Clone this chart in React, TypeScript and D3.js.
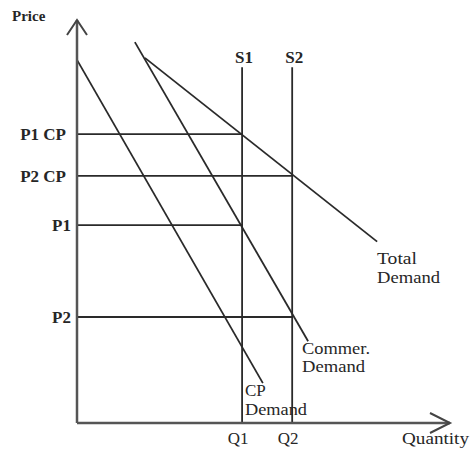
import React from "react";
import * as d3 from "d3";

// Abstract units: quantity 0..100, price 0..100
const quantityTicks = [
  { label: "Q1", value: 44.5 },
  { label: "Q2", value: 58.0 },
];
const priceTicks = [
  { label: "P1 CP", value: 71.7, q: 44.5 },
  { label: "P2 CP", value: 61.3, q: 58.0 },
  { label: "P1", value: 49.1, q: 44.5 },
  { label: "P2", value: 26.3, q: 58.0 },
];
const supplyLines = [
  { label: "S1", q: 44.5, top: 88.3 },
  { label: "S2", q: 58.0, top: 88.3 },
];
const cpDemand: [number, number][] = [
  [0, 90.1],
  [50.1, 9.9],
];
const commerDemand: [number, number][] = [
  [15.6, 94.5],
  [62.3, 20.3],
];
const totalDemand: [number, number][] = [
  [18.3, 90.6],
  [80.9, 45.0],
];

export default function App() {
  const x = d3.scaleLinear().domain([0, 100]).range([77, 448]);
  const y = d3.scaleLinear().domain([0, 100]).range([423, 20]);
  const line = d3
    .line<[number, number]>()
    .x((d) => x(d[0]))
    .y((d) => y(d[1]));
  const lc = "#2a2a2a";
  const lw = 1.8;
  const font = "'Liberation Serif', 'Times New Roman', serif";
  const tc = "#262626";
  const x0 = x(0);
  const y0 = y(0);
  const yTop = y(100);
  const xEnd = x(100);
  return (
    <svg
      width={471}
      height={451}
      style={{ position: "absolute", left: 0, top: 0, background: "#fff" }}
      fontFamily={font}
    >
      {/* demand curves */}
      <path d={line(cpDemand) || ""} stroke={lc} strokeWidth={lw} fill="none" />
      <path d={line(commerDemand) || ""} stroke={lc} strokeWidth={lw} fill="none" />
      <path d={line(totalDemand) || ""} stroke={lc} strokeWidth={lw} fill="none" />
      {/* price lines */}
      {priceTicks.map((p) => (
        <g key={p.label}>
          <line x1={x0} x2={x(p.q)} y1={y(p.value)} y2={y(p.value)} stroke={lc} strokeWidth={lw} />
          <text
            x={x0 - (p.label.length > 2 ? 11 : 6)}
            y={y(p.value)}
            dy="0.35em"
            textAnchor="end"
            fontSize={17}
            fontWeight="bold"
            fill={tc}
          >
            {p.label}
          </text>
        </g>
      ))}
      {/* supply lines */}
      {supplyLines.map((s) => (
        <g key={s.label}>
          <line x1={x(s.q)} x2={x(s.q)} y1={y(s.top)} y2={y0} stroke={lc} strokeWidth={lw} />
          <text x={x(s.q) + 2} y={63} textAnchor="middle" fontSize={17} fontWeight="bold" fill={tc}>
            {s.label}
          </text>
        </g>
      ))}
      {/* axes */}
      <line x1={x0} x2={x0} y1={yTop} y2={y0} stroke="#555" strokeWidth={2.5} />
      <line x1={x0} x2={xEnd + 2} y1={y0} y2={y0} stroke="#555" strokeWidth={2.5} />
      <polyline
        points={`${x0 - 10},${yTop + 15} ${x0},${yTop} ${x0 + 10},${yTop + 15}`}
        fill="none"
        stroke="#444"
        strokeWidth={2}
      />
      <polyline
        points={`${xEnd - 18},${y0 - 10} ${xEnd + 2},${y0} ${xEnd - 18},${y0 + 10}`}
        fill="none"
        stroke="#444"
        strokeWidth={2}
      />
      {/* quantity ticks */}
      {quantityTicks.map((q) => (
        <text key={q.label} x={x(q.value) - 4} y={444} textAnchor="middle" fontSize={17} fill={tc}>
          {q.label}
        </text>
      ))}
      {/* axis titles */}
      <text x={12} y={21} fontSize={15} fontWeight="bold" fill={tc}>
        Price
      </text>
      <text x={402} y={444} fontSize={16} fill={tc} textLength={67} lengthAdjust="spacingAndGlyphs">
        Quantity
      </text>
      {/* curve labels */}
      <text x={377} y={264} fontSize={17} fill={tc} textLength={40} lengthAdjust="spacingAndGlyphs">
        Total
      </text>
      <text x={377} y={283} fontSize={17} fill={tc} textLength={63} lengthAdjust="spacingAndGlyphs">
        Demand
      </text>
      <text x={302} y={354} fontSize={17} fill={tc} textLength={68} lengthAdjust="spacingAndGlyphs">
        Commer.
      </text>
      <text x={302} y={372} fontSize={17} fill={tc} textLength={63} lengthAdjust="spacingAndGlyphs">
        Demand
      </text>
      <text x={245} y={396} fontSize={17} fill={tc}>
        CP
      </text>
      <text x={245} y={415} fontSize={17} fill={tc} textLength={62} lengthAdjust="spacingAndGlyphs">
        Demand
      </text>
    </svg>
  );
}
